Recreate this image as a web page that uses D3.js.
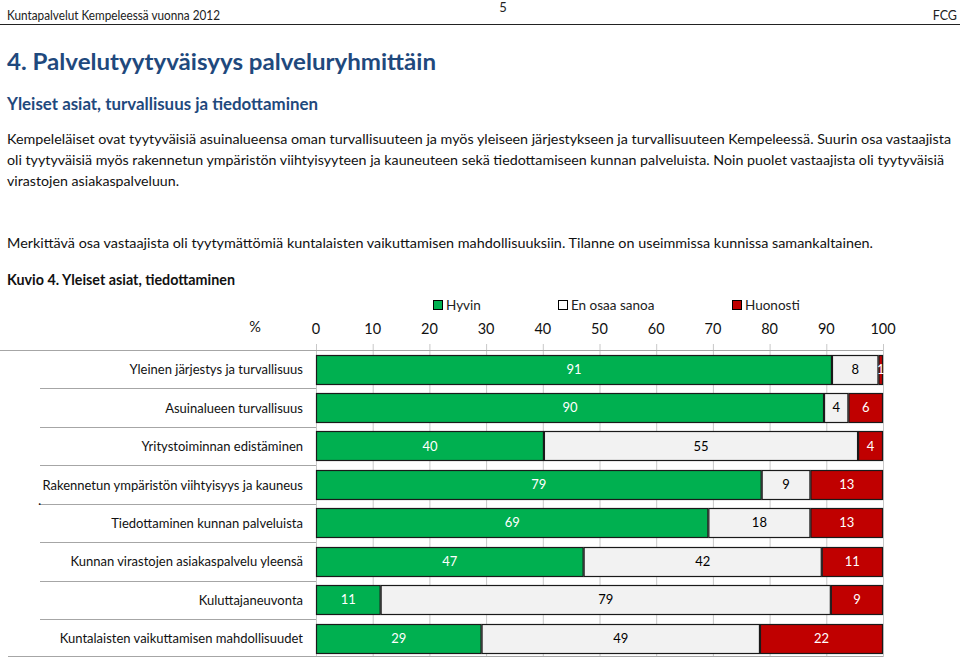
<!DOCTYPE html>
<html><head><meta charset="utf-8">
<script src="https://cdn.jsdelivr.net/npm/d3@7"></script>
<style>body{margin:0;background:#fff}svg{display:block}text{font-family:Lato,"Open Sans",sans-serif}</style>
</head><body>
<script>
const categories = [
  "Yleinen järjestys ja turvallisuus",
  "Asuinalueen turvallisuus",
  "Yritystoiminnan edistäminen",
  "Rakennetun ympäristön viihtyisyys ja kauneus",
  "Tiedottaminen kunnan palveluista",
  "Kunnan virastojen asiakaspalvelu yleensä",
  "Kuluttajaneuvonta",
  "Kuntalaisten vaikuttamisen mahdollisuudet"
];
const seriesNames = ["Hyvin", "En osaa sanoa", "Huonosti"];
const hyvin    = [91.0, 89.6, 40.2, 78.6, 69.2, 47.2, 11.4, 29.2];
const eiOsaa   = [8.2, 4.3, 55.4, 8.6, 18.0, 42.0, 79.4, 49.1];
const huonosti = [0.8, 6.1, 4.4, 12.8, 12.8, 10.8, 9.2, 21.7];
const tickValues = [0,10,20,30,40,50,60,70,80,90,100];

const W = 960, H = 658;
const svg = d3.select("body").append("svg").attr("width", W).attr("height", H);

function txt(x, y, s, opt={}) {
  const t = svg.append("text").attr("x", x).attr("y", y).text(s)
    .attr("font-size", opt.size || 14)
    .attr("fill", opt.fill || "#000")
    .attr("font-weight", opt.weight || "normal")
    .attr("text-anchor", opt.anchor || "start");
  if (opt.width) t.attr("textLength", opt.width).attr("lengthAdjust", "spacingAndGlyphs");
  return t;
}

// Header
txt(7, 20, "Kuntapalvelut Kempeleessä vuonna 2012", {size: 12.5, fill: "#222", width: 213});
txt(503, 12, "5", {size: 13, anchor: "middle", fill: "#222"});
txt(957, 20, "FCG", {size: 12.5, anchor: "end", fill: "#222"});
svg.append("line").attr("x1", 0).attr("x2", W).attr("y1", 24.5).attr("y2", 24.5).attr("stroke", "#222").attr("stroke-width", 1);

const blue = "#1F497D";
txt(7, 70, "4. Palvelutyytyväisyys palveluryhmittäin", {size: 23, weight: "bold", fill: blue, width: 429});
txt(7, 110, "Yleiset asiat, turvallisuus ja tiedottaminen", {size: 16.5, weight: "bold", fill: blue, width: 311});

const para = [
  ["Kempeleläiset ovat tyytyväisiä asuinalueensa oman turvallisuuteen ja myös yleiseen järjestykseen ja turvallisuuteen Kempeleessä. Suurin osa vastaajista", 144, 944],
  ["oli tyytyväisiä myös rakennetun ympäristön viihtyisyyteen ja kauneuteen sekä tiedottamiseen kunnan palveluista. Noin puolet vastaajista oli tyytyväisiä", 165, 937],
  ["virastojen asiakaspalveluun.", 186, 172],
  ["Merkittävä osa vastaajista oli tyytymättömiä kuntalaisten vaikuttamisen mahdollisuuksiin. Tilanne on useimmissa kunnissa samankaltainen.", 248, 866]
];
para.forEach(p => txt(7, p[1], p[0], {size: 14, width: p[2], fill: "#111"}));
txt(7, 285, "Kuvio 4. Yleiset asiat, tiedottaminen", {size: 14.5, weight: "bold", width: 228, fill: "#111"});

// Chart
const x = d3.scaleLinear().domain([0, 100]).range([316, 883]);
const y = d3.scaleBand().domain(categories).range([350, 657.5]).paddingInner(0.24).paddingOuter(0.12);
const step = y.step();
const colors = ["#00B050", "#F2F2F2", "#C00000"];
const labelColors = ["#fff", "#000", "#fff"];

// gridlines
svg.append("g").selectAll("line").data(tickValues).join("line")
  .attr("x1", d => x(d) + 0.5).attr("x2", d => x(d) + 0.5)
  .attr("y1", 344).attr("y2", 657)
  .attr("stroke", "#C8C8C8").attr("stroke-width", 1);

// top & bottom lines, separators
svg.append("line").attr("x1", 0).attr("x2", x(100)).attr("y1", 350.5).attr("y2", 350.5).attr("stroke", "#A6A6A6");
svg.append("line").attr("x1", 8).attr("x2", x(100)).attr("y1", 656.5).attr("y2", 656.5).attr("stroke", "#A6A6A6");
svg.append("g").selectAll("line").data(categories.slice(1)).join("line")
  .attr("x1", 40).attr("x2", x(0))
  .attr("y1", (d, i) => Math.round(350 + step * (i + 1)) + 0.5)
  .attr("y2", (d, i) => Math.round(350 + step * (i + 1)) + 0.5)
  .attr("stroke", "#A6A6A6");

// axis tick labels
svg.append("g").selectAll("text").data(tickValues).join("text")
  .attr("x", d => x(d)).attr("y", 334).attr("text-anchor", "middle")
  .attr("font-size", 14.5).attr("fill", "#111").text(d => d);
txt(255, 332, "%", {size: 14.5, anchor: "middle", fill: "#111"});

// legend
const legendX = [433, 558, 732];
seriesNames.forEach((n, i) => {
  svg.append("rect").attr("x", legendX[i] + 0.5).attr("y", 300.5).attr("width", 9).attr("height", 9)
    .attr("fill", colors[i] === "#F2F2F2" ? "#fff" : colors[i]).attr("stroke", "#000");
  txt(legendX[i] + 13, 310, n, {size: 13.5, fill: "#222"});
});

// stacked data
const rows = categories.map((c, i) => ({cat: c, vals: [hyvin[i], eiOsaa[i], huonosti[i]]}));
const segs = [];
rows.forEach(r => {
  let acc = 0;
  r.vals.forEach((v, k) => { segs.push({cat: r.cat, k, x0: acc, x1: acc + v, v}); acc += v; });
});

svg.append("g").selectAll("rect").data(segs).join("rect")
  .attr("x", d => x(d.x0) + 0.5).attr("width", d => Math.max(0, x(d.x1) - x(d.x0) - 1))
  .attr("y", d => Math.round(y(d.cat)) + 0.5).attr("height", Math.round(y.bandwidth()))
  .attr("fill", d => colors[d.k]).attr("stroke", "#1a1a1a").attr("stroke-width", 1.2);

svg.append("g").selectAll("text").data(segs).join("text")
  .attr("x", d => (x(d.x0) + x(d.x1)) / 2)
  .attr("y", d => y(d.cat) + y.bandwidth() / 2 + 4.5)
  .attr("text-anchor", "middle").attr("font-size", 13)
  .attr("fill", d => labelColors[d.k])
  .text(d => Math.round(d.v));

// category labels
svg.append("g").selectAll("text").data(categories).join("text")
  .attr("x", 303).attr("y", d => y(d) + y.bandwidth() / 2 + 5)
  .attr("text-anchor", "end").attr("font-size", 13).attr("fill", "#111")
  .text(d => d);

txt(38, 505, ".", {size: 14, fill: "#111"});
</script>
</body></html>
